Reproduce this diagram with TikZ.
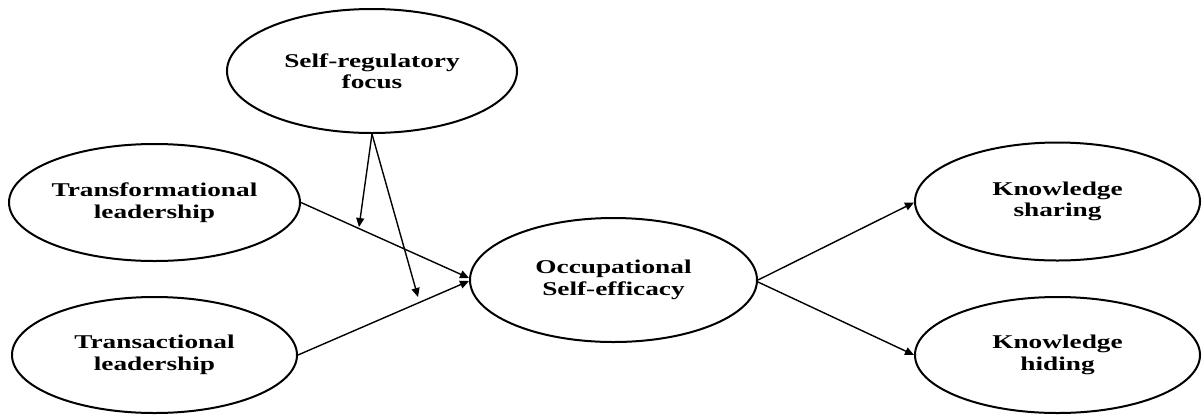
\documentclass[tikz,border=0pt]{standalone}
\usepackage{fontspec}
\setmainfont{Liberation Serif}
\newfontfamily\labfont[FakeStretch=1.4]{Liberation Serif}
\usetikzlibrary{shapes.geometric,arrows.meta}
\tikzset{
  var/.style={ellipse, draw, line width=2pt, inner sep=0pt, align=center,
    font=\labfont\fontsize{19.5}{21.5}\selectfont\bfseries},
  arr/.style={line width=1.4pt, -{Triangle[length=9pt,width=8pt]}}
}
\begin{document}
\begin{tikzpicture}[x=1pt,y=-1pt]
\useasboundingbox (0,0) rectangle (1202,416);
\node[var, minimum width=290pt, minimum height=124pt] (srf) at (372,71) {Self-regulatory\\focus};
\node[var, minimum width=285pt, minimum height=117pt] (tf) at (154.5,202.5) {Transformational\\leadership};
\node[var, minimum width=285pt, minimum height=116pt] (ta) at (154.5,355) {Transactional\\leadership};
\node[var, minimum width=287pt, minimum height=124pt] (ose) at (613.5,280) {Occupational\\Self-efficacy};
\node[var, minimum width=285pt, minimum height=118pt] (ks) at (1057.5,201.5) {Knowledge\\sharing};
\node[var, minimum width=285pt, minimum height=116pt] (kh) at (1057.5,355) {Knowledge\\hiding};
\coordinate (m1) at (359,227);
\coordinate (m2) at (418,297);
\draw[arr] (tf.east) -- ([yshift=2pt]ose.west);
\draw[arr] (ta.east) -- ([yshift=-1pt]ose.west);
\draw[arr] (srf.south) -- (m1);
\draw[arr] (srf.south) -- (m2);
\draw[arr] (ose.east) -- ([yshift=-1pt]ks.west);
\draw[arr] ([yshift=-2pt]ose.east) -- (kh.west);
\end{tikzpicture}
\end{document}
